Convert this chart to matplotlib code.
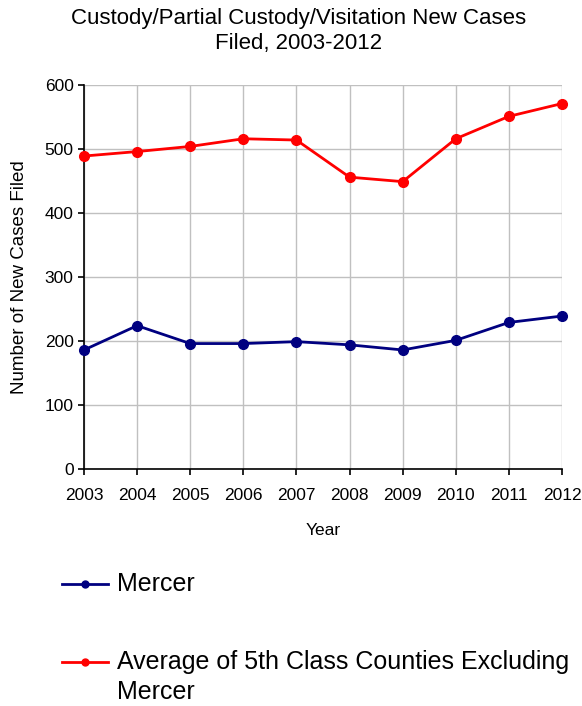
import matplotlib.pyplot as plt
from matplotlib.lines import Line2D

plt.rcParams['font.family'] = ['Liberation Sans', 'DejaVu Sans']

years = [2003, 2004, 2005, 2006, 2007, 2008, 2009, 2010, 2011, 2012]
mercer = [186, 224, 196, 196, 199, 194, 186, 201, 229, 239]
avg_5th = [489, 496, 504, 516, 514, 456, 449, 516, 551, 571]

blue = '#000080'
red = '#ff0000'

fig = plt.figure(figsize=(5.82, 7.06), dpi=100)
ax = fig.add_axes([84 / 582, 1 - 469 / 706, 478 / 582, 384 / 706])

ax.plot(years, mercer, color=blue, lw=2, marker='o', ms=7, clip_on=False, zorder=3)
ax.plot(years, avg_5th, color=red, lw=2, marker='o', ms=7, clip_on=False, zorder=3)

ax.set_xlim(2003, 2012)
ax.set_ylim(0, 600)
ax.set_xticks(years)
ax.set_yticks(range(0, 601, 100))
ax.grid(True, color='#c0c0c0', lw=1)
ax.set_axisbelow(True)
for s in ['top', 'right']:
    ax.spines[s].set_visible(False)
for s in ['left', 'bottom']:
    ax.spines[s].set_linewidth(1.2)
ax.tick_params(direction='out', length=4, width=1.2, labelsize=12.5)
ax.tick_params(axis='x', pad=10)
ax.set_xlabel('Year', fontsize=12.5, labelpad=14)
ax.set_ylabel('Number of New Cases Filed', fontsize=13.5, labelpad=12)

fig.text(299 / 582, 1 - 31 / 706, 'Custody/Partial Custody/Visitation New Cases\nFiled, 2003-2012',
         ha='center', va='center', fontsize=16, linespacing=1.2)

# legend drawn by hand so the handle lines up with the first text line
for col, yy, label in [(blue, 584, 'Mercer'),
                       (red, 662, 'Average of 5th Class Counties Excluding\nMercer')]:
    y = 1 - yy / 706
    fig.add_artist(Line2D([62 / 582, 108 / 582], [y, y], color=col, lw=2, transform=fig.transFigure))
    fig.add_artist(Line2D([85 / 582], [y], color=col, marker='o', ms=5, transform=fig.transFigure))
    fig.text(117 / 582, 1 - (yy - 12) / 706, label, ha='left', va='top', fontsize=18, linespacing=1.3,
             transform=fig.transFigure)

fig.savefig('out.png', dpi=100)
